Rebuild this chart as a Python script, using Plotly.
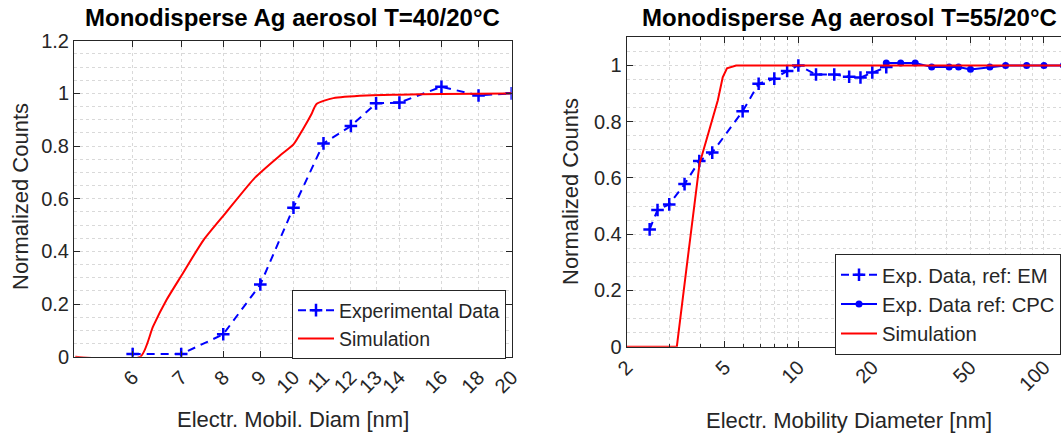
import plotly.graph_objects as go
import math

# ---------------- data ----------------
# Left panel: T=40/20°C
x_exp40 = [6, 7, 8, 9, 10, 11, 12, 13, 14, 16, 18, 20]
y_exp40 = [0.01, 0.01, 0.085, 0.274, 0.566, 0.81, 0.876, 0.962, 0.965, 1.025, 0.992, 1.0]

x_sim40 = [5.0, 6.15, 6.40, 6.68, 7.01, 7.51, 8.08, 8.85, 9.58, 10.0, 10.31, 10.59, 10.76, 11.35, 12.6, 14, 16, 20]
y_sim40 = [0, 0, 0.114, 0.215, 0.309, 0.442, 0.549, 0.68, 0.764, 0.806, 0.865, 0.922, 0.96, 0.982, 0.992, 0.995, 0.998, 1.0]

ticks40 = [6, 7, 8, 9, 10, 11, 12, 13, 14, 16, 18, 20]

# Right panel: T=55/20°C
x_em = [2.48, 2.67, 2.98, 3.44, 3.95, 4.46, 5.93, 6.89, 7.98, 9.0, 10.0, 11.8, 14.0, 16.1, 17.9, 20.0, 22.8]
y_em = [0.417, 0.486, 0.506, 0.578, 0.66, 0.69, 0.837, 0.935, 0.953, 0.98, 1.0, 0.968, 0.968, 0.96, 0.957, 0.975, 0.994]

x_cpc = [22.8, 26.1, 29.9, 34.9, 41.1, 44.9, 50.2, 60.2, 69.8, 85, 100, 120]
y_cpc = [1.009, 1.009, 1.009, 0.994, 0.994, 0.994, 0.986, 0.994, 1.0, 1.0, 1.0, 1.0]

x_sim55 = [2.0, 3.2, 3.5, 3.7, 3.96, 4.22, 4.45, 4.70, 4.92, 5.12, 5.58, 10, 120]
y_sim55 = [0, 0, 0.276, 0.445, 0.651, 0.734, 0.804, 0.876, 0.958, 0.99, 1.0, 1.0, 1.0]

ticks55 = [2, 5, 10, 20, 50, 100]
minor55 = [3, 4, 6, 7, 8, 9, 30, 40, 60, 70, 80, 90]

# ---------------- style ----------------
W, H = 1061, 435
FONT = "Arial, Liberation Sans, Helvetica, sans-serif"
AX = "#262626"
GRID = "#d9d9d9"
BLUE = "#0000FF"
RED = "#FF0000"

def px(v, total):
    return v / total

fig = go.Figure()

# left traces
fig.add_trace(go.Scatter(x=x_exp40, y=y_exp40, mode="lines+markers", name="Experimental Data",
                         line=dict(color=BLUE, width=2, dash="8px,6px"),
                         marker=dict(symbol="cross-thin", size=9, line=dict(color=BLUE, width=2.5)),
                         xaxis="x", yaxis="y", legend="legend"))
fig.add_trace(go.Scatter(x=x_sim40, y=y_sim40, mode="lines", name="Simulation",
                         line=dict(color=RED, width=2, shape="spline", smoothing=0.6),
                         xaxis="x", yaxis="y", legend="legend"))

# right traces
fig.add_trace(go.Scatter(x=x_em, y=y_em, mode="lines+markers", name="Exp. Data, ref: EM",
                         line=dict(color=BLUE, width=2, dash="8px,6px"),
                         marker=dict(symbol="cross-thin", size=9, line=dict(color=BLUE, width=2.5)),
                         xaxis="x2", yaxis="y2", legend="legend2"))
fig.add_trace(go.Scatter(x=x_cpc, y=y_cpc, mode="lines+markers", name="Exp. Data ref: CPC",
                         line=dict(color=BLUE, width=2),
                         marker=dict(symbol="circle", size=7, color=BLUE),
                         xaxis="x2", yaxis="y2", legend="legend2"))
fig.add_trace(go.Scatter(x=x_sim55, y=y_sim55, mode="lines", name="Simulation",
                         line=dict(color=RED, width=2), xaxis="x2", yaxis="y2", legend="legend2"))

common_axis = dict(showline=True, linecolor=AX, linewidth=1, ticks="inside", ticklen=6,
                   tickcolor=AX, tickfont=dict(family=FONT, size=20, color=AX),
                   showgrid=True, gridcolor=GRID, griddash="dot", gridwidth=1, zeroline=False,
                   automargin=False)

axis_title_font = dict(family=FONT, size=22, color=AX)

fig.update_layout(
    width=W, height=H,
    margin=dict(l=0, r=0, t=0, b=0, autoexpand=False),
    paper_bgcolor="white", plot_bgcolor="white",
    showlegend=True,
    xaxis=dict(**common_axis, type="log", domain=[px(74, W), px(511.7, W)],
               range=[math.log10(4.98), math.log10(20)], tickvals=ticks40,
               ticktext=[str(t) for t in ticks40], tickangle=-45, mirror="ticks", anchor="y"),
    yaxis=dict(**common_axis, domain=[1 - 356.7 / H, 1 - 40.7 / H], range=[0, 1.2],
               tickvals=[0, 0.2, 0.4, 0.6, 0.8, 1, 1.2],
               ticktext=["0", "0.2", "0.4", "0.6", "0.8", "1", "1.2"], mirror="ticks", anchor="x",
               minor=dict(dtick=0.05, showgrid=True, gridcolor=GRID, griddash="dot", ticks="")),
    xaxis2=dict(**common_axis, type="log", domain=[px(626.7, W), 1.0],
                range=[math.log10(2), math.log10(2) + (W - 626.7) / 245.6], tickvals=ticks55,
                ticktext=[str(t) for t in ticks55], tickangle=-45, mirror="ticks", anchor="y2",
                minor=dict(tickvals=minor55, showgrid=True, gridcolor=GRID, griddash="dot",
                           ticks="inside", ticklen=3, tickcolor=AX)),
    yaxis2=dict(**common_axis, domain=[1 - 346.7 / H, 1 - 37.3 / H], range=[0, 1.1],
                tickvals=[0, 0.2, 0.4, 0.6, 0.8, 1],
                ticktext=["0", "0.2", "0.4", "0.6", "0.8", "1"], mirror=False, anchor="x2",
                minor=dict(dtick=0.05, showgrid=True, gridcolor=GRID, griddash="dot", ticks="")),
    legend=dict(x=px(506, W), xanchor="right", y=1 - 290 / H, yanchor="top",
                bgcolor="white", bordercolor=AX, borderwidth=1, itemwidth=36,
                font=dict(family=FONT, size=19.5, color=AX), tracegroupgap=0),
    legend2=dict(x=1.0, xanchor="right", y=1 - 254 / H, yanchor="top",
                 bgcolor="white", bordercolor=AX, borderwidth=1, itemwidth=36,
                 font=dict(family=FONT, size=20.3, color=AX), tracegroupgap=0),
    annotations=[
        dict(text="<b>Monodisperse Ag aerosol T=40/20°C</b>", x=px(292.5, W), y=1 - 18 / H,
             xref="paper", yref="paper", showarrow=False, xanchor="center", yanchor="middle",
             font=dict(family=FONT, size=24, color="black")),
        dict(text="<b>Monodisperse Ag aerosol T=55/20°C</b>", x=px(849, W), y=1 - 18 / H,
             xref="paper", yref="paper", showarrow=False, xanchor="center", yanchor="middle",
             font=dict(family=FONT, size=24, color="black")),
        dict(text="Electr. Mobil. Diam [nm]", x=px(293, W), y=1 - 419 / H,
             xref="paper", yref="paper", showarrow=False, xanchor="center", yanchor="middle",
             font=axis_title_font),
        dict(text="Electr. Mobility Diameter [nm]", x=px(849, W), y=1 - 420 / H,
             xref="paper", yref="paper", showarrow=False, xanchor="center", yanchor="middle",
             font=axis_title_font),
        dict(text="Normalized Counts", x=px(20, W), y=1 - 197 / H, textangle=-90,
             xref="paper", yref="paper", showarrow=False, xanchor="center", yanchor="middle",
             font=axis_title_font),
        dict(text="Normalized Counts", x=px(570, W), y=1 - 192 / H, textangle=-90,
             xref="paper", yref="paper", showarrow=False, xanchor="center", yanchor="middle",
             font=axis_title_font),
    ],
)

fig.write_html("out.html")
